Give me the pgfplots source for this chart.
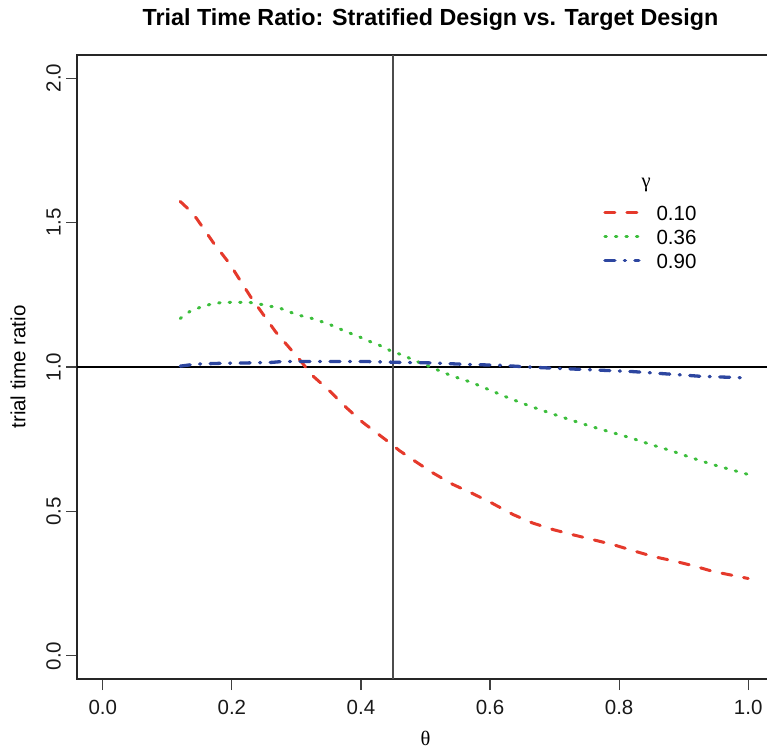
\documentclass[border=0pt]{standalone}
\usepackage{fontspec}
\setmainfont{Liberation Sans}
\newfontfamily\serifgreek{Liberation Serif}
\usepackage{pgfplots}
\pgfplotsset{compat=1.18}
\definecolor{cred}{RGB}{229,57,43}
\definecolor{cgreen}{RGB}{60,190,60}
\definecolor{cblue}{RGB}{45,70,160}
\newcommand{\lbl}{\fontsize{20.5}{24}\selectfont}
\begin{document}
\begin{tikzpicture}
\begin{axis}[
  at={(77pt,69pt)}, anchor=south west,
  scale only axis, width=697pt, height=624pt,
  xmin=-0.04, xmax=1.04, ymin=-0.08, ymax=2.08,
  axis line style={line width=1.3pt, black!85},
  tick pos=left, tick align=outside, major tick length=11pt,
  tick style={line width=1.2pt, black!75},
  xtick={0,0.2,0.4,0.6,0.8,1.0},
  ytick={0,0.5,1,1.5,2},
  /pgf/number format/assume math mode=true,
  /pgf/number format/.cd, fixed, fixed zerofill, precision=1, /pgfplots/.cd,
  ticklabel style={font=\lbl, text=black!90},
  x tick label style={anchor=north, inner sep=0pt, yshift=-10pt},
  y tick label style={rotate=90, anchor=south, inner sep=0pt, yshift=5pt},
  title={Trial Time Ratio: Stratified Design vs. Target Design},
  title style={at={(axis description cs:0.5,1)}, anchor=base, yshift=23pt, xshift=5pt, font=\fontsize{23.3}{28}\selectfont\bfseries},
  xlabel={\serifgreek θ},
  xlabel style={at={(axis description cs:0.5,0)}, anchor=center, yshift=-59pt, font=\lbl},
  ylabel={trial time ratio},
  ylabel style={at={([xshift=-59pt]axis description cs:0,0.5)}, anchor=center, font=\lbl},
  legend cell align=left,
  legend style={at={(0.7547,0.7596)}, anchor=north west, draw=none, fill=none, inner sep=0pt,
    font=\lbl, row sep=9pt, column sep=16pt, nodes={inner sep=0pt, text height=15pt, text depth=0pt}},
  legend image code/.code={\draw[#1] (0pt,0pt) -- (34pt,0pt);},
]
\addplot[forget plot, black, line width=1.2pt] coordinates {(-0.04,1) (1.04,1)};
\addplot[forget plot, black!70, line width=1.5pt] coordinates {(0.45,-0.08) (0.45,2.08)};
\addplot[cred, line width=3pt, line cap=round, dash pattern=on 10pt off 12pt] coordinates {
(0.12,1.573)(0.131,1.550)(0.145,1.515)(0.172,1.428)(0.196,1.359)(0.229,1.243)(0.268,1.121)(0.304,1.028)(0.325,0.970)(0.351,0.918)(0.377,0.860)(0.403,0.808)(0.439,0.747)(0.460,0.710)(0.483,0.675)(0.511,0.634)(0.542,0.594)(0.573,0.562)(0.602,0.530)(0.636,0.489)(0.666,0.460)(0.698,0.437)(0.729,0.419)(0.760,0.402)(0.791,0.385)(0.822,0.364)(0.853,0.344)(0.884,0.329)(0.915,0.312)(0.946,0.292)(1.0,0.268)};
\addlegendentry{0.10}
\addplot[cgreen, line width=3pt, line cap=round, dash pattern=on 1.5pt off 9pt] coordinates {
(0.12,1.168)(0.134,1.191)(0.149,1.205)(0.165,1.216)(0.180,1.222)(0.198,1.224)(0.214,1.224)(0.229,1.223)(0.245,1.217)(0.260,1.210)(0.273,1.205)(0.289,1.191)(0.304,1.179)(0.320,1.171)(0.335,1.160)(0.351,1.148)(0.366,1.133)(0.382,1.118)(0.398,1.104)(0.413,1.089)(0.429,1.075)(0.447,1.055)(0.462,1.043)(0.478,1.028)(0.493,1.013)(0.509,0.999)(0.540,0.970)(0.571,0.947)(0.602,0.918)(0.633,0.889)(0.664,0.863)(0.695,0.839)(0.726,0.816)(0.757,0.794)(0.788,0.774)(0.819,0.754)(0.850,0.731)(0.881,0.710)(0.912,0.686)(0.944,0.663)(1.0,0.628)};
\addlegendentry{0.36}
\addplot[cblue, line width=3.3pt, line cap=round, dash pattern=on 10pt off 9.5pt on 1pt off 9.5pt] coordinates {
(0.12,1.003)(0.144,1.010)(0.185,1.013)(0.222,1.014)(0.262,1.016)(0.278,1.019)(0.304,1.019)(0.356,1.019)(0.408,1.019)(0.460,1.016)(0.511,1.014)(0.563,1.009)(0.615,1.006)(0.667,0.999)(0.718,0.994)(0.760,0.990)(0.822,0.984)(0.874,0.976)(0.925,0.968)(1.0,0.962)};
\addlegendentry{0.90}
\node[font=\lbl] at (axis cs:0.842,1.631) {\serifgreek γ};
\end{axis}
\pgfresetboundingbox
\path[use as bounding box] (0,0) rectangle (767pt,748pt);
\end{tikzpicture}
\end{document}
